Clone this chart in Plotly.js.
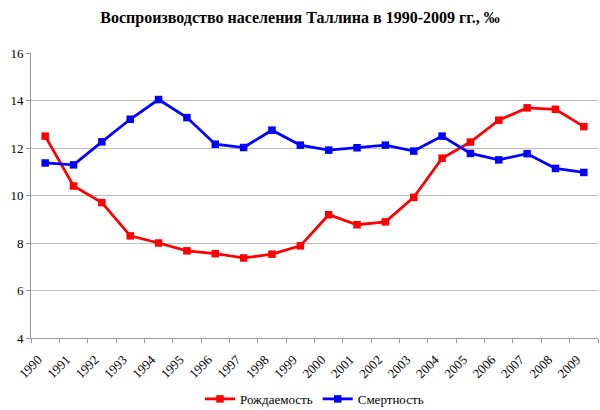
<!DOCTYPE html>
<html>
<head>
<meta charset="utf-8">
<script src="https://cdn.plot.ly/plotly-3.0.1.min.js"></script>
<style>
  html, body { margin: 0; padding: 0; background: #fff; }
  #chart { width: 600px; height: 410px; }
</style>
</head>
<body>
<div id="chart"></div>
<script>
const years = ['1990', '1991', '1992', '1993', '1994', '1995', '1996', '1997', '1998', '1999',
               '2000', '2001', '2002', '2003', '2004', '2005', '2006', '2007', '2008', '2009'];

// рождаемость, ‰
const birthRate = [12.5, 10.4, 9.7, 8.3, 8.0, 7.67, 7.55, 7.37, 7.53, 7.88,
                   9.19, 8.77, 8.89, 9.92, 11.57, 12.25, 13.17, 13.69, 13.63, 12.9];

// смертность, ‰
const deathRate = [11.37, 11.29, 12.26, 13.21, 14.04, 13.28, 12.16, 12.02, 12.75, 12.12,
                   11.91, 12.01, 12.12, 11.87, 12.5, 11.77, 11.5, 11.76, 11.14, 10.97];

const yTicks = [4, 6, 8, 10, 12, 14, 16];

const FONT = 'Liberation Serif, Times New Roman, serif';

function series(name, values, color) {
  return {
    x: years,
    y: values,
    name: name,
    type: 'scatter',
    mode: 'lines+markers',
    line: { color: color, width: 2.8 },
    marker: { color: color, symbol: 'square', size: 7.5 },
    hoverinfo: 'x+y'
  };
}

const data = [
  series('Рождаемость', birthRate, '#ff0000'),
  series('Смертность', deathRate, '#0000ff')
];

const layout = {
  width: 600,
  height: 410,
  margin: { l: 31, r: 2, t: 53, b: 72 },
  paper_bgcolor: '#fff',
  plot_bgcolor: '#fff',
  font: { family: FONT, size: 13, color: '#000' },
  title: {
    text: '<b>Воспроизводство населения Таллина в 1990-2009 гг., ‰</b>',
    font: { family: FONT, size: 16, color: '#000' },
    x: 0.5,
    xanchor: 'center',
    y: 0.958,
    yanchor: 'middle'
  },
  showlegend: true,
  legend: {
    orientation: 'h',
    xref: 'paper',
    x: 0.5,
    xanchor: 'center',
    yref: 'container',
    y: 0.027,
    yanchor: 'middle',
    font: { family: FONT, size: 13 },
    itemwidth: 30,
    tracegroupgap: 0
  },
  xaxis: {
    type: 'category',
    range: [-0.5, 19.5],
    automargin: false,
    tickson: 'boundaries',
    ticks: 'outside',
    ticklen: 4,
    tickcolor: '#999',
    tickangle: -45,
    ticklabelstandoff: 8,
    ticklabelshift: -7,
    showline: true,
    linecolor: '#999',
    linewidth: 1,
    showgrid: false,
    zeroline: false,
    tickfont: { family: FONT, size: 13 }
  },
  yaxis: {
    range: [4, 16],
    automargin: false,
    tickvals: yTicks,
    ticks: 'outside',
    ticklen: 4,
    tickcolor: '#999',
    showline: true,
    linecolor: '#999',
    linewidth: 1,
    showgrid: true,
    gridcolor: '#bdbdbd',
    gridwidth: 1,
    zeroline: false,
    tickfont: { family: FONT, size: 13 }
  }
};

Plotly.newPlot('chart', data, layout, { displayModeBar: false, staticPlot: true });
</script>
</body>
</html>
